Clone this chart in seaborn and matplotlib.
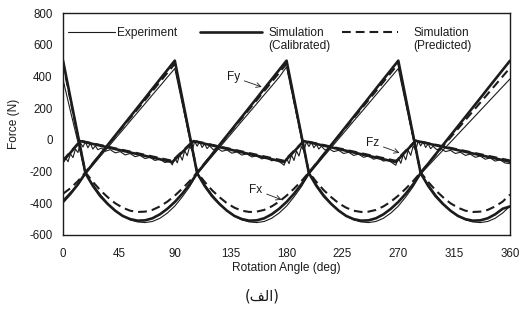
import matplotlib
matplotlib.use('Agg')
import matplotlib.pyplot as plt
import seaborn as sns

# ---------------------------------------------------------------
# data (force in N, angle in deg)
# ---------------------------------------------------------------
angle = list(range(0, 361, 6))

fy_exp = [380, 180, -15, -215, -280, -345, -400, -445, -480, -505, -518, -522, -515, -495, -462, -418,
          -360, -295, -215, -160, -104, -49, 7, 62, 118, 173, 228, 284, 339, 395, 460,
          235, 10, -215, -280, -345, -400, -445, -480, -505, -518, -522, -515, -495, -462, -418,
          -360, -295, -215, -165, -115, -65, -15, 35, 85, 135, 185, 235, 285, 335, 385]
fx_exp = [-380, -330, -285, -215, -160, -104, -49, 7, 62, 118, 173, 228, 284, 339, 395, 450,
          228, 7, -215, -280, -345, -400, -445, -480, -505, -518, -522, -515, -495, -462, -418,
          -360, -295, -215, -160, -104, -49, 7, 62, 118, 173, 228, 284, 339, 395, 450,
          228, 7, -215, -280, -345, -400, -445, -480, -505, -518, -522, -515, -495, -462, -418]

fy_cal = [500, 263, 27, -210, -290, -355, -405, -447, -480, -500, -510, -508, -495, -470, -435, -392,
          -340, -280, -210, -151, -92, -32, 27, 86, 145, 204, 263, 323, 382, 441, 500,
          263, 27, -210, -290, -355, -405, -447, -480, -500, -510, -508, -495, -470, -435, -392,
          -340, -280, -210, -151, -92, -32, 27, 86, 145, 204, 263, 323, 382, 441, 500]
fx_cal = [-392, -340, -280, -210, -151, -92, -32, 27, 86, 145, 204, 263, 323, 382, 441, 500,
          263, 27, -210, -290, -355, -405, -447, -480, -500, -510, -508, -495, -470, -435, -392,
          -340, -280, -210, -151, -92, -32, 27, 86, 145, 204, 263, 323, 382, 441, 500,
          263, 27, -210, -290, -355, -405, -447, -480, -500, -510, -508, -495, -470, -435, -420]

fy_pred = [480, 252, 23, -205, -265, -318, -362, -400, -428, -447, -455, -453, -442, -420, -390, -352,
           -308, -260, -205, -148, -91, -34, 23, 80, 137, 194, 251, 308, 366, 423, 480,
           252, 23, -205, -265, -318, -362, -400, -428, -447, -455, -453, -442, -420, -390, -352,
           -308, -260, -205, -150, -95, -40, 15, 70, 125, 180, 235, 290, 345, 400, 455]
fx_pred = [-340, -305, -260, -205, -148, -91, -34, 23, 80, 137, 194, 251, 308, 366, 423, 480,
           252, 23, -205, -265, -318, -362, -400, -428, -447, -455, -453, -442, -420, -390, -352,
           -308, -260, -205, -148, -91, -34, 23, 80, 137, 194, 251, 308, 366, 423, 480,
           252, 23, -205, -265, -318, -362, -400, -428, -447, -455, -453, -442, -420, -390, -345]

# Fz, simulation (corner points only, straight segments in between)
fz_angle = [0, 14, 88, 105, 178, 194, 268, 284, 360]
fz_cal = [-135, -8, -140, -8, -140, -8, -140, -6, -138]
fz_pred = [-128, -5, -132, -5, -132, -5, -132, -4, -130]

# Fz, experiment (noisy, with chatter near each jump)
fz_exp_angle = [0, 2, 4, 6, 8, 10, 12, 14, 16, 18, 20, 22, 24, 26, 28, 31, 34, 38, 42, 46, 50,
                54, 58, 62, 66, 70, 74, 78, 82, 86, 88,
                90, 92, 94, 96, 98, 100, 102, 104, 106, 108, 110, 112, 114, 116, 118, 121, 124,
                128, 132, 136, 140, 144, 148, 152, 156, 160, 164, 168, 172, 176, 178,
                180, 182, 184, 186, 188, 190, 192, 194, 196, 198, 200, 202, 204, 206, 208, 211,
                214, 218, 222, 226, 230, 234, 238, 242, 246, 250, 254, 258, 262, 266, 268,
                270, 272, 274, 276, 278, 280, 282, 284, 286, 288, 290, 292, 294, 296, 298, 301,
                304, 308, 312, 316, 320, 324, 328, 332, 336, 340, 344, 348, 352, 356, 360]
fz_exp = [-150, -112, -138, -88, -112, -58, -80, -18, -45, -12, -50, -22, -58, -38, -62, -52, -72,
          -62, -82, -74, -95, -86, -106, -98, -118, -110, -130, -122, -143, -136, -158,
          -112, -145, -92, -128, -68, -100, -40, -68, -10, -40, -12, -48, -25, -55, -38, -62, -52,
          -72, -64, -84, -76, -96, -88, -108, -100, -120, -112, -132, -125, -148, -160,
          -115, -150, -95, -130, -70, -102, -42, -70, -12, -42, -15, -50, -28, -58, -40, -64,
          -55, -74, -66, -86, -78, -98, -90, -110, -102, -122, -114, -134, -127, -150, -160,
          -112, -148, -92, -126, -66, -98, -38, -66, -8, -38, -12, -48, -25, -56, -40, -62,
          -54, -74, -66, -86, -78, -98, -90, -110, -102, -122, -114, -134, -126, -146, -150]

x_ticks = [0, 45, 90, 135, 180, 225, 270, 315, 360]
y_ticks = [-600, -400, -200, 0, 200, 400, 600, 800]
legend_main = ['Experiment', 'Simulation', 'Simulation']
legend_sub = ['', '(Calibrated)', '(Predicted)']
caption = '(الف)'
# matplotlib has no Arabic shaping: same word written with presentation forms, in visual order
caption_shown = '(\ufed2\ufedf\ufe8d)'

# ---------------------------------------------------------------
# plot
# ---------------------------------------------------------------
sns.set_theme(style='white')
plt.rcParams['font.family'] = ['Liberation Sans', 'DejaVu Sans']
plt.rcParams['axes.unicode_minus'] = False

ink = '#1c1c1c'
fs = 8.6
fig, ax = plt.subplots(figsize=(5.21, 3.12), dpi=100)
fig.subplots_adjust(left=0.121, right=0.979, top=0.958, bottom=0.247)

thin = dict(color=ink, lw=0.8, estimator=None, sort=False)
thick = dict(color=ink, lw=1.9, estimator=None, sort=False)
dashed = dict(color=ink, lw=1.5, linestyle=(0, (4.2, 2.4)), estimator=None, sort=False)

sns.lineplot(x=angle, y=fy_pred, ax=ax, **dashed)
sns.lineplot(x=angle, y=fx_pred, ax=ax, **dashed)
sns.lineplot(x=fz_angle, y=fz_pred, ax=ax, **dashed)
sns.lineplot(x=angle, y=fy_cal, ax=ax, **thick)
sns.lineplot(x=angle, y=fx_cal, ax=ax, **thick)
sns.lineplot(x=fz_angle, y=fz_cal, ax=ax, **thick)
sns.lineplot(x=angle, y=fy_exp, ax=ax, **thin)
sns.lineplot(x=angle, y=fx_exp, ax=ax, **thin)
sns.lineplot(x=fz_exp_angle, y=fz_exp, ax=ax, **thin)

ax.set_xlim(0, 360)
ax.set_ylim(-600, 800)
ax.set_xticks(x_ticks)
ax.set_yticks(y_ticks)
ax.tick_params(direction='in', length=3, width=0.8, color=ink, labelsize=8.3,
               labelcolor=ink)
ax.tick_params(axis='x', pad=9.5)
ax.tick_params(axis='y', pad=7.5)
for s in ax.spines.values():
    s.set_color(ink)
    s.set_linewidth(1.0)

ax.set_xlabel('Rotation Angle (deg)', fontsize=fs, color=ink, labelpad=1.5)
ax.set_ylabel('Force (N)', fontsize=fs, color=ink, labelpad=7)

# legend: one small legend per entry so each sample keeps its own length
lines = ax.get_lines()
handles = [lines[6], lines[3], lines[0]]
anchors = [0.011, 0.3065, 0.624]        # left edge of each sample, axes fraction
lengths = [3.9, 5.2, 4.7]                # sample length, in font sizes
pads = [0.2, 0.5, 1.3]
legs = []
for h, lab, x0, hl, tp in zip(handles, legend_main, anchors, lengths, pads):
    leg = ax.legend([h], [lab], frameon=False, loc='center left',
                    bbox_to_anchor=(x0, 0.91), borderaxespad=0, borderpad=0,
                    handlelength=hl, handletextpad=tp, fontsize=fs, labelcolor=ink)
    legs.append(leg)
for leg in legs[:-1]:
    ax.add_artist(leg)

fig.canvas.draw()
inv = ax.transAxes.inverted()
for leg, sub in zip(legs, legend_sub):
    if not sub:
        continue
    bb = leg.get_texts()[0].get_window_extent()
    x_left = inv.transform((bb.x0, bb.y0))[0]
    ax.text(x_left, 0.852, sub, transform=ax.transAxes, fontsize=fs, color=ink,
            ha='left', va='center')

# curve labels
arrow = dict(arrowstyle='->', lw=0.6, color=ink, shrinkA=1, shrinkB=0)
ax.annotate('Fy', xy=(160, 334), xytext=(137, 397), fontsize=fs, color=ink,
            ha='center', va='center', arrowprops=arrow)
ax.annotate('Fz', xy=(271, -82), xytext=(249, -19), fontsize=fs, color=ink,
            ha='center', va='center', arrowprops=arrow)
ax.annotate('Fx', xy=(176, -378), xytext=(155, -315), fontsize=fs, color=ink,
            ha='center', va='center', arrowprops=arrow)

fig.text(0.503, 1 - 296 / 312, caption_shown, fontsize=10.5, color=ink,
         ha='center', va='center', family=['DejaVu Sans'])

fig.savefig('out.png', dpi=100, facecolor='white')
